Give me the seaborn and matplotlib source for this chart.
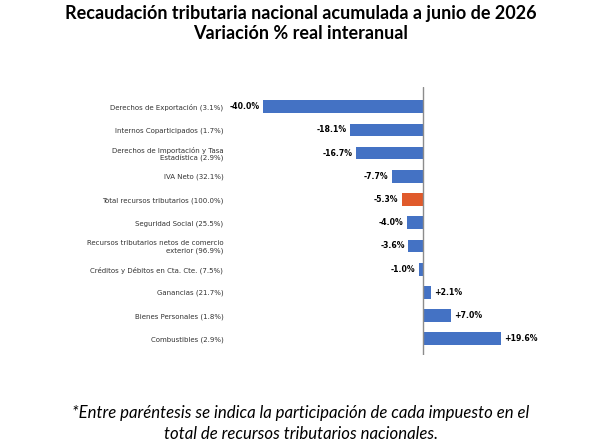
import pandas as pd
import matplotlib.pyplot as plt
import seaborn as sns

# Data
categories = [
    "Derechos de Exportación",
    "Internos Coparticipados",
    "Derechos de Importación y Tasa\nEstadística",
    "IVA Neto",
    "Total recursos tributarios",
    "Seguridad Social",
    "Recursos tributarios netos de comercio\nexterior",
    "Créditos y Débitos en Cta. Cte.",
    "Ganancias",
    "Bienes Personales",
    "Combustibles",
]
shares = [3.1, 1.7, 2.9, 32.1, 100.0, 25.5, 96.9, 7.5, 21.7, 1.8, 2.9]
variation = [-40.0, -18.1, -16.7, -7.7, -5.3, -4.0, -3.6, -1.0, 2.1, 7.0, 19.6]
highlight = "Total recursos tributarios"

labels = [f"{c} ({s:.1f}%)" for c, s in zip(categories, shares)]
df = pd.DataFrame({
    "label": labels,
    "var": variation,
    "grupo": ["total" if c == highlight else "impuesto" for c in categories],
})

sns.set_theme(style="white")
plt.rcParams["font.family"] = ["DejaVu Sans"]
plt.rcParams["text.color"] = "black"

fig = plt.figure(figsize=(6.01, 4.46), dpi=100)
ax = fig.add_axes([0.404, 0.204, 0.499, 0.601])

sns.barplot(
    data=df, y="label", x="var", hue="grupo", orient="h",
    palette={"impuesto": "#4472C4", "total": "#E05A2B"},
    dodge=False, width=0.55, saturation=1, linewidth=0,
    legend=False, ax=ax,
)

for i, v in enumerate(df["var"]):
    txt = f"{v:+.1f}%"
    if v < 0:
        ax.annotate(txt, (v, i), xytext=(-2.5, 0), textcoords="offset points",
                    ha="right", va="center", fontsize=5.6, fontweight="bold", color="black")
    else:
        ax.annotate(txt, (v, i), xytext=(2.5, 0), textcoords="offset points",
                    ha="left", va="center", fontsize=5.6, fontweight="bold", color="black")

ax.set_xlim(-45, 30)
ax.set_ylim(10.7, -0.85)
ax.axvline(0, color="#8c8c8c", lw=1)
for s in ax.spines.values():
    s.set_visible(False)
ax.set_xticks([])
ax.set_xlabel("")
ax.set_ylabel("")
ax.tick_params(axis="y", length=0, pad=14, labelsize=5.0, labelcolor="#333333")
for t in ax.get_yticklabels():
    t.set_horizontalalignment("right")

fig.text(0.5, 0.988, "Recaudación tributaria nacional acumulada a junio de 2026\nVariación % real interanual",
         ha="center", va="top", fontsize=13, fontweight="bold", family=["Lato", "DejaVu Sans"],
         linespacing=1.2, color="black")
fig.text(0.5, 0.093, "*Entre paréntesis se indica la participación de cada impuesto en el\ntotal de recursos tributarios nacionales.",
         ha="center", va="top", fontsize=12.1, style="italic", family=["Lato", "DejaVu Sans"],
         linespacing=1.45, color="black")

fig.savefig("out.png", dpi=100)
